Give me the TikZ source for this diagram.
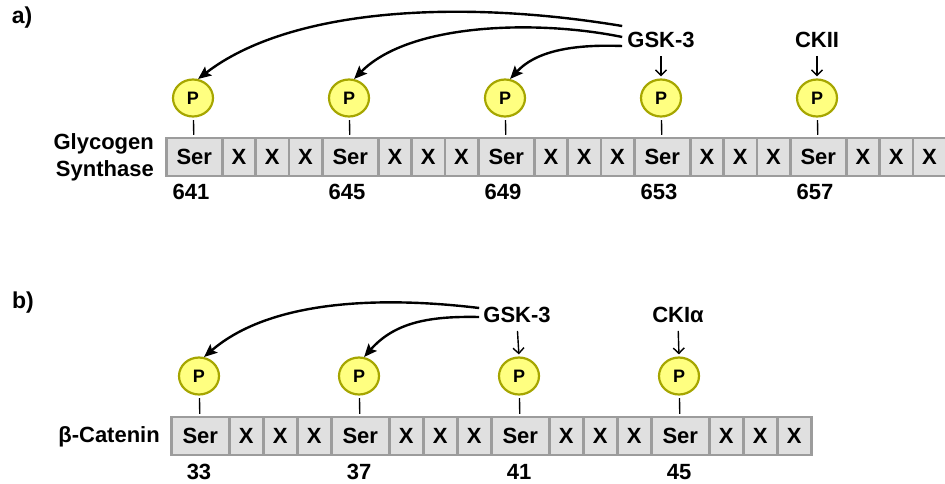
\documentclass[tikz,border=0pt]{standalone}
\usepackage{fontspec}
\setmainfont{Liberation Sans}
\usetikzlibrary{arrows.meta,shapes.geometric}
\definecolor{pfill}{HTML}{FFFF80}
\definecolor{pdraw}{HTML}{A6A600}
\definecolor{cfill}{HTML}{E0E0E0}
\definecolor{cdraw}{HTML}{9C9C9C}
\begin{document}
\begin{tikzpicture}[x=1pt,y=-1pt,
  every node/.style={font=\bfseries\fontsize{22}{27}\selectfont},
  lbl/.style={inner sep=0pt},
  cell/.style={draw=cdraw, fill=cfill, line width=2.5pt, minimum height=38pt, inner sep=0pt, anchor=west},
  phos/.style={ellipse, draw=pdraw, fill=pfill, line width=2.2pt, minimum width=40pt, minimum height=37pt, inner sep=0pt, font=\bfseries\fontsize{18}{20}\selectfont},
  stalk/.style={line width=1.4pt, shorten <=2.5pt, shorten >=2pt},
  garrow/.style={line width=2.4pt, -{Stealth[length=13pt,width=11pt,inset=2.5pt]}},
  darrow/.style={line width=1.4pt, -{Straight Barb[length=5.5pt,width=11pt]}, shorten <=8pt, shorten >=2pt}
]
\useasboundingbox (0,0) rectangle (945,483);

% ---------- panel a ----------
\node[lbl, font=\bfseries\fontsize{23}{27}\selectfont] (la) at (22,18) {a)};
\node[lbl, align=right, anchor=east] (gs) at (154,157) {Glycogen\\Synthase};
\foreach \k/\n in {0/641,1/645,2/649,3/653,4/657} {
  \node[cell, minimum width=56pt] (sa\k) at ({165+156*\k},157) {Ser};
  \foreach \j in {1,2,3} {
    \node[cell, minimum width=33.33pt] (xa\k\j) at ({165+156*\k+56+33.33*(\j-1)},157) {X};
  }
  \node[phos] (pa\k) at ({193+156*\k},98) {P};
  \draw[stalk] (pa\k) -- (sa\k);
  \node[lbl] (na\k) at ({191+156*\k},192) {\n};
}
\node[lbl] (gska) at (661,40) {GSK-3};
\node[lbl] (ckii) at (817,40) {CKII};
\draw[darrow] (gska.south) -- (pa3.north);
\draw[darrow] (ckii.south) -- (pa4.north);
\draw[garrow] ([shift={(-5,-14)}]gska.west) .. controls (460,-1) and (290,8) .. (pa0.75);
\draw[garrow] ([shift={(-5,-3)}]gska.west) .. controls (540,20) and (410,22) .. (pa1.75);
\draw[garrow] ([shift={(-5,6)}]gska.west) .. controls (570,44) and (535,52) .. (pa2.75);

% ---------- panel b ----------
\node[lbl, font=\bfseries\fontsize{23}{27}\selectfont] (lb) at (23,303) {b)};
\node[lbl, anchor=east] (bc) at (160,437) {β-Catenin};
\foreach \k/\n in {0/33,1/37,2/41,3/45} {
  \node[cell, minimum width=58pt] (sb\k) at ({170+160*\k},436) {Ser};
  \foreach \j in {1,2,3} {
    \node[cell, minimum width=34pt] (xb\k\j) at ({170+160*\k+58+34*(\j-1)},436) {X};
  }
  \node[phos] (pb\k) at ({199+160*\k},376) {P};
  \draw[stalk] (pb\k) -- (sb\k);
  \node[lbl] (nb\k) at ({199+160*\k},472) {\n};
}
\node[lbl] (gskb) at (517,315) {GSK-3};
\node[lbl] (ckia) at (678,315) {CKIα};
\draw[darrow] (gskb.south) -- (pb2.north);
\draw[darrow] (ckia.south) -- (pb3.north);
\draw[garrow] ([shift={(-4,-7)}]gskb.west) .. controls (380,296) and (270,300) .. (pb0.75);
\draw[garrow] ([shift={(-4,2)}]gskb.west) .. controls (430,316) and (395,322) .. (pb1.75);
\end{tikzpicture}
\end{document}
